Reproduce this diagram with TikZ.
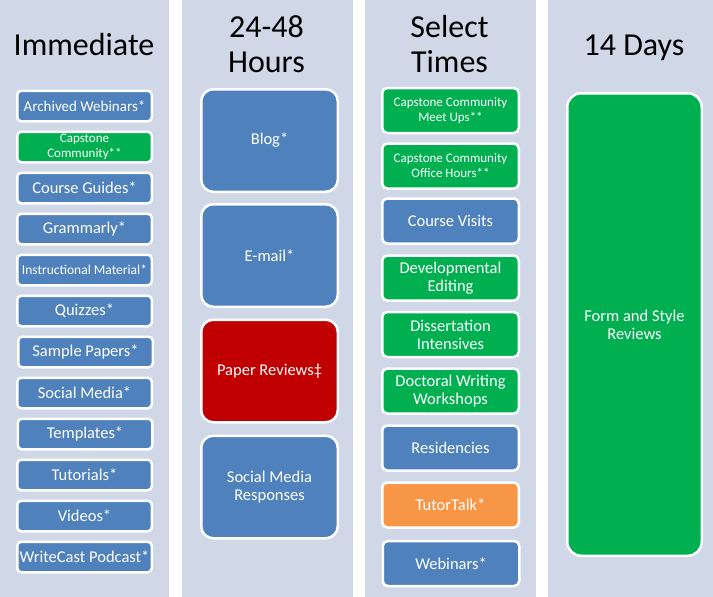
\documentclass[tikz,border=0pt]{standalone}
\usepackage{fontspec}
\setmainfont{Carlito}
\definecolor{panel}{HTML}{D0D8E8}
\definecolor{tileblue}{HTML}{4F81BD}
\definecolor{tilegreen}{HTML}{00B050}
\definecolor{tilered}{HTML}{C00000}
\definecolor{tileorange}{HTML}{F79646}
\tikzset{
  tile/.style={draw=white, line width=2.5pt, text=white, align=center, inner sep=0pt},
  listtile/.style={tile, rounded corners=4pt, minimum width=134.5pt, minimum height=30.5pt,
    font=\fontsize{16.5}{18}\selectfont},
  bigtile/.style={tile, rounded corners=12pt, minimum width=136.5pt, minimum height=102.5pt,
    font=\fontsize{16.5}{18}\selectfont},
  midtile/.style={tile, rounded corners=5pt, minimum width=136.5pt, minimum height=45pt,
    font=\fontsize{16.5}{18}\selectfont},
  heading/.style={font=\fontsize{32}{35}\selectfont, align=center}
}
\begin{document}
\begin{tikzpicture}[x=1pt, y=-1pt]
\useasboundingbox (0,0) rectangle (713,597);
\fill[white] (0,0) rectangle (713,597);
% columns
\fill[panel] (0,0) rectangle (169,597);
\fill[panel] (182,0) rectangle (353,597);
\fill[panel] (365,0) rectangle (536,597);
\fill[panel] (548,0) rectangle (713,597);

\node (imm) at (84,55) [heading, anchor=base] {Immediate};
\node (hrs) at (266.5,44) [heading] {24-48\\Hours};
\node (sel) at (449.5,44) [heading] {Select\\Times};
\node (days) at (634,55) [heading, anchor=base] {14 Days};

% immediate
\node (arch) at (84.5,106) [listtile, fill=tileblue, font=\fontsize{15}{16}\selectfont] {Archived Webinars*};
\node (cap) at (84.5,147) [listtile, fill=tilegreen, font=\fontsize{13}{15}\selectfont] {Capstone\\Community**};
\node (guide) at (84.5,188) [listtile, fill=tileblue] {Course Guides*};
\node (gram) at (84.5,229) [listtile, fill=tileblue] {Grammarly*};
\node (instr) at (84.5,270) [listtile, fill=tileblue, font=\fontsize{13.5}{15}\selectfont] {Instructional Material*};
\node (quiz) at (84.5,311) [listtile, fill=tileblue] {Quizzes*};
\node (sample) at (85.5,352) [listtile, fill=tileblue] {Sample Papers*};
\node (social) at (84.5,393) [listtile, fill=tileblue] {Social Media*};
\node (templ) at (85,434) [listtile, fill=tileblue] {Templates*};
\node (tutor) at (84.5,475) [listtile, fill=tileblue] {Tutorials*};
\node (video) at (84.5,516) [listtile, fill=tileblue] {Videos*};
\node (podcast) at (84.5,557) [listtile, fill=tileblue] {WriteCast Podcast*};

% 24-48 hours
\node (blog) at (269.5,140.5) [bigtile, fill=tileblue] {Blog*};
\node (mail) at (269.5,255.5) [bigtile, fill=tileblue] {E-mail*};
\node (review) at (269.5,371) [bigtile, fill=tilered] {Paper Reviews‡};
\node (resp) at (269.5,487) [bigtile, fill=tileblue] {Social Media\\Responses};

% select times
\node (meet) at (450.5,110.5) [midtile, fill=tilegreen, font=\fontsize{13}{15}\selectfont] {Capstone Community\\Meet Ups**};
\node (office) at (450.5,166) [midtile, fill=tilegreen, font=\fontsize{13}{15}\selectfont] {Capstone Community\\Office Hours**};
\node (visit) at (450.5,221) [midtile, fill=tileblue] {Course Visits};
\node (edit) at (450.5,278) [midtile, fill=tilegreen] {Developmental\\Editing};
\node (diss) at (450.5,334.5) [midtile, fill=tilegreen] {Dissertation\\Intensives};
\node (work) at (450.5,391) [midtile, fill=tilegreen] {Doctoral Writing\\Workshops};
\node (resid) at (450.5,448) [midtile, fill=tileblue] {Residencies};
\node (talk) at (450.5,505) [midtile, fill=tileorange] {TutorTalk*};
\node (web) at (451,563.5) [midtile, fill=tileblue] {Webinars*};

% 14 days
\node (form) at (634.5,324.5) [tile, fill=tilegreen, rounded corners=14pt, minimum width=134.5pt,
  minimum height=462.5pt, font=\fontsize{16.5}{18}\selectfont] {Form and Style\\Reviews};
\end{tikzpicture}
\end{document}
